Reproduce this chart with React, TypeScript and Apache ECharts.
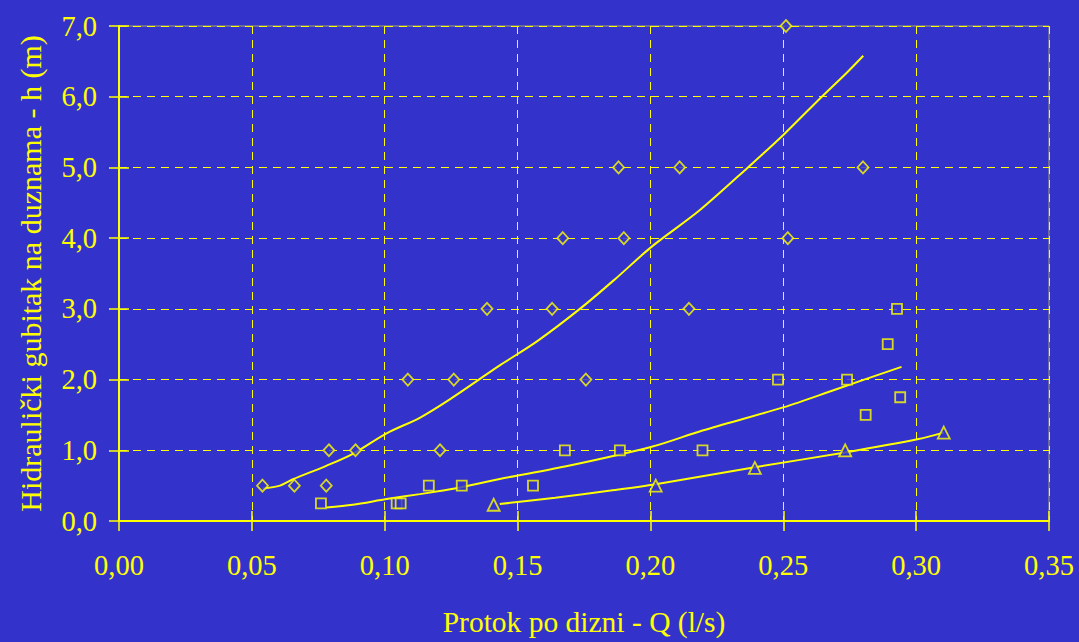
import React, { useEffect, useRef } from "react";
import * as echarts from "echarts";

// X ticks (Q, l/s) and Y ticks (h, m)
const xTicks = [0, 0.05, 0.1, 0.15, 0.2, 0.25, 0.3, 0.35];
const yTicks = [0, 1, 2, 3, 4, 5, 6, 7];

// Diamond series
const diamondQ = [0.054, 0.066, 0.078, 0.079, 0.089, 0.1087, 0.1208, 0.126, 0.1385, 0.163, 0.167, 0.1757, 0.188, 0.19, 0.211, 0.2145, 0.251, 0.2517, 0.28];
const diamondH = [0.5, 0.5, 0.5, 1.0, 1.0, 2.0, 1.0, 2.0, 3.0, 3.0, 4.0, 2.0, 5.0, 4.0, 5.0, 3.0, 7.0, 4.0, 5.0];

// Square series
const squareQ = [0.076, 0.1045, 0.106, 0.1166, 0.129, 0.1558, 0.1678, 0.1885, 0.2196, 0.248, 0.274, 0.281, 0.2893, 0.294, 0.2928];
const squareH = [0.25, 0.25, 0.25, 0.5, 0.5, 0.5, 1.0, 1.0, 1.0, 2.0, 2.0, 1.5, 2.5, 1.75, 3.0];

// Triangle series
const triangleQ = [0.141, 0.202, 0.2393, 0.2733, 0.3104];
const triangleH = [0.23, 0.5, 0.75, 1.0, 1.25];

// Trend curves
const curve1Q = [0.054, 0.0606, 0.0655, 0.078, 0.088, 0.1007, 0.1132, 0.1245, 0.1433, 0.1573, 0.1738, 0.187, 0.2005, 0.2184, 0.2367, 0.2503, 0.2642, 0.2739, 0.2801];
const curve1H = [0.46, 0.5, 0.59, 0.78, 0.95, 1.24, 1.46, 1.72, 2.2, 2.54, 3.01, 3.43, 3.88, 4.39, 5.0, 5.47, 5.99, 6.34, 6.58];
const curve2Q = [0.078, 0.088, 0.1007, 0.1132, 0.1258, 0.1433, 0.1678, 0.2005, 0.2196, 0.2503, 0.2697, 0.2945];
const curve2H = [0.19, 0.23, 0.31, 0.38, 0.455, 0.595, 0.77, 1.05, 1.28, 1.61, 1.86, 2.18];
const curve3Q = [0.1433, 0.1642, 0.185, 0.202, 0.2393, 0.2733, 0.3009, 0.3104];
const curve3H = [0.24, 0.33, 0.43, 0.52, 0.76, 0.97, 1.16, 1.25];

const xName = "Protok po dizni - Q (l/s)";
const yName = "Hidraulički gubitak na duznama - h (m)";

const YEL = "#FFFF00";
const BG = "#3333CC";
const FONT = '"Liberation Serif", "Times New Roman", serif';

const zip = (a: number[], b: number[]) => a.map((v, i) => [v, b[i]]);

export default function App() {
  const ref = useRef<HTMLDivElement>(null);
  useEffect(() => {
    if (!ref.current) return;
    const chart = echarts.init(ref.current, undefined, { renderer: "svg" });
    const xMin = xTicks[0];
    const xMax = xTicks[xTicks.length - 1];
    const xInt = xTicks[1] - xTicks[0];
    const yMin = yTicks[0];
    const yMax = yTicks[yTicks.length - 1];
    const yInt = yTicks[1] - yTicks[0];
    const gridLine = { show: true, lineStyle: { color: YEL, width: 1, type: [8, 6] as any } };
    const markerStyle = { color: BG, borderColor: YEL, borderWidth: 1.8 };
    chart.setOption({
      animation: false,
      backgroundColor: BG,
      grid: { left: 119, right: 30, top: 26, bottom: 118, show: true, borderColor: "#A8A860", borderWidth: 1, backgroundColor: "transparent" },
      xAxis: [
        {
          type: "value", min: xMin, max: xMax, interval: xInt, position: "bottom",
          name: xName, nameLocation: "middle", nameGap: 86,
          nameTextStyle: { color: YEL, fontFamily: FONT, fontSize: 29.5 },
          axisLine: { show: true, onZero: false, lineStyle: { color: YEL, width: 2 } },
          axisTick: { show: true, length: 10, lineStyle: { color: YEL, width: 1.5 } },
          axisLabel: { color: YEL, fontFamily: FONT, fontSize: 28.5, margin: 30, formatter: (v: number) => v.toFixed(2).replace(".", ",") },
          splitLine: gridLine,
        },
        {
          type: "value", min: xMin, max: xMax, interval: xInt, position: "bottom", offset: 0,
          axisLine: { show: false, onZero: false },
          axisTick: { show: true, inside: true, length: 10, lineStyle: { color: YEL, width: 1.5 } },
          axisLabel: { show: false },
          splitLine: { show: false },
        },
      ],
      yAxis: [
        {
          type: "value", min: yMin, max: yMax, interval: yInt, position: "left",
          name: yName, nameLocation: "middle", nameGap: 74, nameRotate: 90,
          nameTextStyle: { color: YEL, fontFamily: FONT, fontSize: 30 },
          axisLine: { show: true, onZero: false, lineStyle: { color: YEL, width: 2 } },
          axisTick: { show: true, length: 10, lineStyle: { color: YEL, width: 1.5 } },
          axisLabel: { color: YEL, fontFamily: FONT, fontSize: 28.5, margin: 22, formatter: (v: number) => v.toFixed(1).replace(".", ",") },
          splitLine: gridLine,
        },
        {
          type: "value", min: yMin, max: yMax, interval: yInt, position: "left", offset: 0,
          axisLine: { show: false, onZero: false },
          axisTick: { show: true, inside: true, length: 10, lineStyle: { color: YEL, width: 1.5 } },
          axisLabel: { show: false },
          splitLine: { show: false },
        },
      ],
      series: [
        { type: "line", data: zip(curve1Q, curve1H), showSymbol: false, symbol: "none", smooth: 0.3, lineStyle: { color: YEL, width: 2 }, z: 2 },
        { type: "line", data: zip(curve2Q, curve2H), showSymbol: false, symbol: "none", smooth: 0.3, lineStyle: { color: YEL, width: 2 }, z: 2 },
        { type: "line", data: zip(curve3Q, curve3H), showSymbol: false, symbol: "none", smooth: 0.3, lineStyle: { color: YEL, width: 2 }, z: 2 },
        { type: "scatter", data: zip(diamondQ, diamondH), symbol: "diamond", symbolSize: [11, 12], itemStyle: markerStyle, z: 3 },
        { type: "scatter", data: zip(squareQ, squareH), symbol: "rect", symbolSize: [10, 10], itemStyle: markerStyle, z: 3 },
        { type: "scatter", data: zip(triangleQ, triangleH), symbol: "triangle", symbolSize: [12, 12], itemStyle: markerStyle, z: 3 },
      ],
    });
    return () => chart.dispose();
  }, []);
  return <div ref={ref} style={{ position: "fixed", left: 0, top: 0, width: 1079, height: 642 }} />;
}
